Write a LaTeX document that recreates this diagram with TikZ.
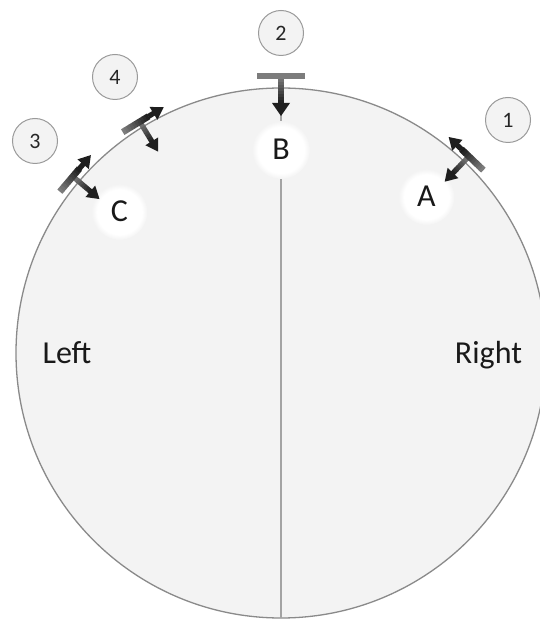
\documentclass[tikz,border=0pt]{standalone}
\usepackage{fontspec}
\setmainfont{Carlito}
\usetikzlibrary{arrows.meta}
\definecolor{circfill}{HTML}{F3F3F3}
\definecolor{circline}{HTML}{8A8A8A}
\definecolor{midline}{HTML}{A3A3A3}
\definecolor{bargray}{HTML}{7C7C7C}
\definecolor{arrowblk}{HTML}{1E1E1E}
\definecolor{numline}{HTML}{9A9A9A}
\definecolor{numfill}{HTML}{F3F3F3}
\pgfdeclareradialshading{glowsh}{\pgfpoint{0bp}{0bp}}{color(0bp)=(white); color(20bp)=(white); color(25bp)=(circfill); color(50bp)=(circfill)}
\newcommand\sidemark{%
  % perpendicular (inward) arrow
  \foreach \i in {0,...,7} {\pgfmathtruncatemacro\p{\i*14}
    \fill[arrowblk!\p!bargray] (-2.6,{-3*\i}) rectangle (2.6,{-3*\i-3.3});}
  \fill[arrowblk] (-7.5,-23) -- (7.5,-23) -- (0,-35) -- cycle;
  % tangential bar turning into an arrow
  \foreach \i in {0,...,9} {\pgfmathtruncatemacro\p{\i*11}
    \fill[arrowblk!\p!bargray] ({-20+3*\i},-3.3) rectangle ({-20+3*\i+3.3},3.3);}
  \fill[arrowblk] (10,-2.6) rectangle (17,2.6);
  \fill[arrowblk] (16,-7.5) -- (16,7.5) -- (28,0) -- cycle;
}
\begin{document}
\begin{tikzpicture}[x=1pt,y=1pt,
  numcirc/.style={circle, draw=numline, line width=1pt, fill=numfill,
    minimum size=45pt, inner sep=0pt, font=\fontsize{22}{24}\selectfont, text=black!85},
  lbl/.style={font=\fontsize{32}{36}\selectfont, text=black!90, anchor=base, inner sep=0pt},
  glow/.style={circle, shading=glowsh, inner sep=0pt},
]
\useasboundingbox (0,0) rectangle (540,619);
\begin{scope}
\clip (0,0) rectangle (540,619);
\node[circle, draw=circline, fill=circfill, line width=1.3pt,
  minimum size=530pt, inner sep=0pt, outer sep=0pt] (disk) at (281,266) {};
\end{scope}
\draw[midline, line width=1.5pt] (disk.north) -- (disk.south);

% soft white glows behind letters
\node[glow, minimum size=58pt] (gB) at (281,469) {};
\node[glow, minimum size=56pt] (gA) at (426.5,422) {};
\node[glow, minimum size=56pt] (gC) at (119.5,407) {};

% marker 2 (top)
\begin{scope}[shift={(disk.center)}, yshift=277pt]
  \foreach \i in {0,...,8} {\pgfmathtruncatemacro\p{\i*12}
    \fill[arrowblk!\p!bargray] (-3,{-3*\i}) rectangle (3,{-3*\i-3.3});}
  \fill[arrowblk] (-9,-27) -- (9,-27) -- (0,-40) -- cycle;
  \fill[bargray] (-24,-3.3) rectangle (24,3.3);
\end{scope}
% marker 1 (right)
\begin{scope}[shift={(disk.center)}, rotate=-43.7, yshift=272pt, xscale=-1]
  \sidemark
\end{scope}
% marker 3 (left)
\begin{scope}[shift={(disk.center)}, rotate=49.7, yshift=273pt]
  \sidemark
\end{scope}
% marker 4 (upper left)
\begin{scope}[shift={(disk.center)}, rotate=31.4, yshift=271pt]
  \sidemark
\end{scope}

% labels
\node[lbl] (B) at (281,459) {B};
\node[lbl] (A) at (426.5,412) {A};
\node[lbl] (C) at (119.5,397) {C};
\node[lbl] (L) at (67,255) {Left};
\node[lbl] (R) at (488.5,255) {Right};

% numbered circles
\node[numcirc] (n1) at (508,499) {1};
\node[numcirc] (n2) at (281,586) {2};
\node[numcirc] (n3) at (35,478) {3};
\node[numcirc] (n4) at (115,542) {4};
\end{tikzpicture}
\end{document}
